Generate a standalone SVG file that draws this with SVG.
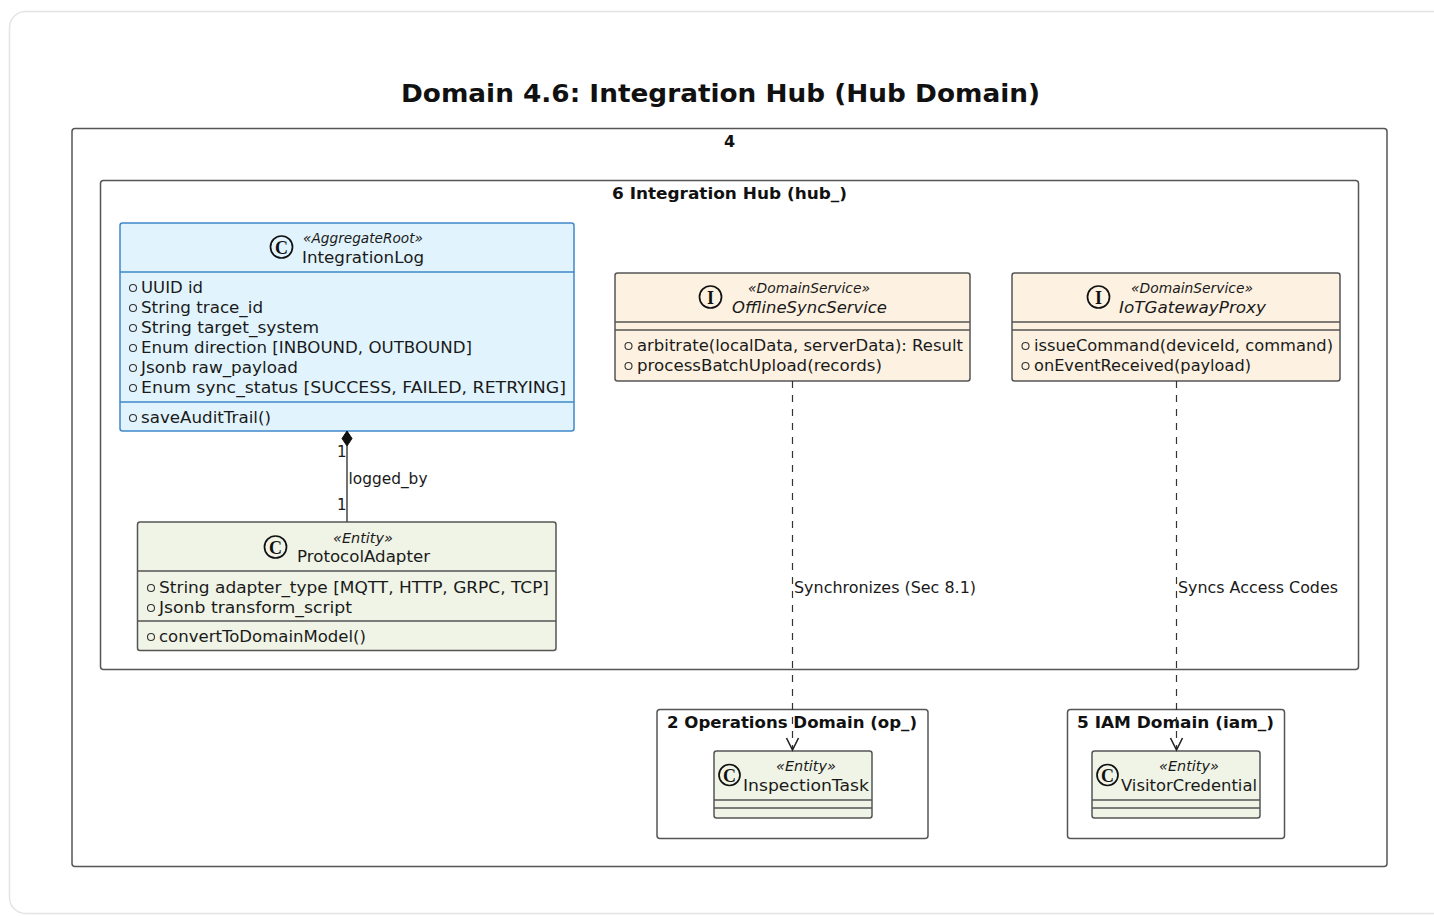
<svg xmlns="http://www.w3.org/2000/svg" width="1434" height="916" viewBox="0 0 1434 916">
<defs>
<style>
text{font-family:"DejaVu Sans","Verdana",sans-serif;fill:#1a1a1a;}
.title{font-size:25px;font-weight:bold;fill:#111;}
.pkg{fill:none;stroke:#555;stroke-width:1.5;}
.pkgl{font-size:16px;font-weight:bold;fill:#111;}
.root{fill:#e1f4fd;stroke:#3f88c9;stroke-width:1.5;}
.svc{fill:#fdf1e1;stroke:#555;stroke-width:1.5;}
.ent{fill:#eff4e6;stroke:#555;stroke-width:1.5;}
.sepb{stroke:#3f88c9;stroke-width:1.5;}
.sep{stroke:#555;stroke-width:1.5;}
.st{font-size:14px;font-style:italic;}
.nm{font-size:16.5px;}
.it{font-style:italic;}
.mb{font-size:16.5px;}
.vis{fill:none;stroke:#333;stroke-width:1.1;}
.ico{fill:none;stroke:#111;stroke-width:1.7;}
.icl{font-family:"Liberation Serif","DejaVu Serif",serif;font-size:18px;font-weight:bold;fill:#111;}
.lbl{font-size:15px;}
.dash{fill:none;stroke:#333;stroke-width:1.2;stroke-dasharray:7,7;}
.solid{fill:none;stroke:#444;stroke-width:1.5;}
.head{fill:none;stroke:#222;stroke-width:1.6;}
</style>
</defs>
<rect x="9.5" y="11.5" width="1440" height="902" rx="16" fill="#fff" stroke="#e4e4e8" stroke-width="1.5"/>
<text class="title" x="720.5" y="102" text-anchor="middle" textLength="639" lengthAdjust="spacingAndGlyphs">Domain 4.6: Integration Hub (Hub Domain)</text>

<g id="pkg-4">
<rect class="pkg" x="72" y="128.5" width="1315" height="738" rx="3"/>
<text class="pkgl" x="729.5" y="147" text-anchor="middle">4</text>
</g>
<g id="pkg-6">
<rect class="pkg" x="100.5" y="180.5" width="1258" height="489" rx="3"/>
<text class="pkgl" x="729.5" y="199" text-anchor="middle" textLength="235" lengthAdjust="spacingAndGlyphs">6 Integration Hub (hub_)</text>
</g>
<g id="pkg-2">
<rect class="pkg" x="657" y="709.5" width="271" height="129" rx="3"/>
<text class="pkgl" x="792" y="728" text-anchor="middle" textLength="250" lengthAdjust="spacingAndGlyphs">2 Operations Domain (op_)</text>
</g>
<g id="pkg-5">
<rect class="pkg" x="1067.5" y="709.5" width="217" height="129" rx="3"/>
<text class="pkgl" x="1175.5" y="728" text-anchor="middle" textLength="197" lengthAdjust="spacingAndGlyphs">5 IAM Domain (iam_)</text>
</g>

<g id="IntegrationLog">
<rect class="root" x="120" y="223" width="454" height="208" rx="2.5"/>
<line class="sepb" x1="120" y1="272" x2="574" y2="272"/>
<line class="sepb" x1="120" y1="402" x2="574" y2="402"/>
<circle class="ico" cx="281.5" cy="247" r="11"/>
<text class="icl" x="281.5" y="253.5" text-anchor="middle">C</text>
<text class="st" x="363" y="243" text-anchor="middle" textLength="120" lengthAdjust="spacingAndGlyphs">«AggregateRoot»</text>
<text class="nm" x="363" y="263" text-anchor="middle" textLength="122" lengthAdjust="spacingAndGlyphs">IntegrationLog</text>
<circle class="vis" cx="133" cy="288" r="3.5"/>
<text class="mb" x="141" y="293" textLength="62" lengthAdjust="spacingAndGlyphs">UUID id</text>
<circle class="vis" cx="133" cy="308" r="3.5"/>
<text class="mb" x="141" y="313" textLength="122" lengthAdjust="spacingAndGlyphs">String trace_id</text>
<circle class="vis" cx="133" cy="328" r="3.5"/>
<text class="mb" x="141" y="333" textLength="178" lengthAdjust="spacingAndGlyphs">String target_system</text>
<circle class="vis" cx="133" cy="348" r="3.5"/>
<text class="mb" x="141" y="353" textLength="331" lengthAdjust="spacingAndGlyphs">Enum direction [INBOUND, OUTBOUND]</text>
<circle class="vis" cx="133" cy="368" r="3.5"/>
<text class="mb" x="141" y="373" textLength="157" lengthAdjust="spacingAndGlyphs">Jsonb raw_payload</text>
<circle class="vis" cx="133" cy="388" r="3.5"/>
<text class="mb" x="141" y="393" textLength="425" lengthAdjust="spacingAndGlyphs">Enum sync_status [SUCCESS, FAILED, RETRYING]</text>
<circle class="vis" cx="133" cy="418" r="3.5"/>
<text class="mb" x="141" y="423" textLength="130" lengthAdjust="spacingAndGlyphs">saveAuditTrail()</text>
</g>

<g id="ProtocolAdapter">
<rect class="ent" x="137.5" y="522" width="418.5" height="128.5" rx="2.5"/>
<line class="sep" x1="137.5" y1="571" x2="556" y2="571"/>
<line class="sep" x1="137.5" y1="621" x2="556" y2="621"/>
<circle class="ico" cx="275.5" cy="547" r="11"/>
<text class="icl" x="275.5" y="553.5" text-anchor="middle">C</text>
<text class="st" x="363" y="543" text-anchor="middle" textLength="60" lengthAdjust="spacingAndGlyphs">«Entity»</text>
<text class="nm" x="363.5" y="562" text-anchor="middle" textLength="133" lengthAdjust="spacingAndGlyphs">ProtocolAdapter</text>
<circle class="vis" cx="151" cy="588" r="3.5"/>
<text class="mb" x="159" y="593" textLength="390" lengthAdjust="spacingAndGlyphs">String adapter_type [MQTT, HTTP, GRPC, TCP]</text>
<circle class="vis" cx="151" cy="608" r="3.5"/>
<text class="mb" x="159" y="613" textLength="193" lengthAdjust="spacingAndGlyphs">Jsonb transform_script</text>
<circle class="vis" cx="151" cy="637" r="3.5"/>
<text class="mb" x="159" y="642" textLength="207" lengthAdjust="spacingAndGlyphs">convertToDomainModel()</text>
</g>

<g id="OfflineSyncService">
<rect class="svc" x="615" y="273" width="355" height="108" rx="2.5"/>
<line class="sep" x1="615" y1="322" x2="970" y2="322"/>
<line class="sep" x1="615" y1="330" x2="970" y2="330"/>
<circle class="ico" cx="710.5" cy="297" r="11"/>
<text class="icl" x="710.5" y="303.5" text-anchor="middle">I</text>
<text class="st" x="809" y="293" text-anchor="middle" textLength="122" lengthAdjust="spacingAndGlyphs">«DomainService»</text>
<text class="nm it" x="809.5" y="313" text-anchor="middle" textLength="155" lengthAdjust="spacingAndGlyphs">OfflineSyncService</text>
<circle class="vis" cx="628.5" cy="346" r="3.5"/>
<text class="mb" x="637" y="351" textLength="326" lengthAdjust="spacingAndGlyphs">arbitrate(localData, serverData): Result</text>
<circle class="vis" cx="628.5" cy="366" r="3.5"/>
<text class="mb" x="637" y="371" textLength="245" lengthAdjust="spacingAndGlyphs">processBatchUpload(records)</text>
</g>

<g id="IoTGatewayProxy">
<rect class="svc" x="1012" y="273" width="328" height="108" rx="2.5"/>
<line class="sep" x1="1012" y1="322" x2="1340" y2="322"/>
<line class="sep" x1="1012" y1="330" x2="1340" y2="330"/>
<circle class="ico" cx="1098.5" cy="297" r="11"/>
<text class="icl" x="1098.5" y="303.5" text-anchor="middle">I</text>
<text class="st" x="1192" y="293" text-anchor="middle" textLength="122" lengthAdjust="spacingAndGlyphs">«DomainService»</text>
<text class="nm it" x="1192.5" y="313" text-anchor="middle" textLength="147" lengthAdjust="spacingAndGlyphs">IoTGatewayProxy</text>
<circle class="vis" cx="1025.5" cy="346" r="3.5"/>
<text class="mb" x="1034" y="351" textLength="299" lengthAdjust="spacingAndGlyphs">issueCommand(deviceId, command)</text>
<circle class="vis" cx="1025.5" cy="366" r="3.5"/>
<text class="mb" x="1034" y="371" textLength="217" lengthAdjust="spacingAndGlyphs">onEventReceived(payload)</text>
</g>

<g id="InspectionTask">
<rect class="ent" x="714" y="751" width="158" height="67" rx="2.5"/>
<line class="sep" x1="714" y1="800" x2="872" y2="800"/>
<line class="sep" x1="714" y1="808" x2="872" y2="808"/>
<circle class="ico" cx="729.5" cy="775" r="10.5"/>
<text class="icl" x="729.5" y="781.5" text-anchor="middle">C</text>
<text class="st" x="806" y="771" text-anchor="middle" textLength="60" lengthAdjust="spacingAndGlyphs">«Entity»</text>
<text class="nm" x="806" y="791" text-anchor="middle" textLength="126" lengthAdjust="spacingAndGlyphs">InspectionTask</text>
</g>

<g id="VisitorCredential">
<rect class="ent" x="1092" y="751" width="168" height="67" rx="2.5"/>
<line class="sep" x1="1092" y1="800" x2="1260" y2="800"/>
<line class="sep" x1="1092" y1="808" x2="1260" y2="808"/>
<circle class="ico" cx="1107.5" cy="775" r="10.5"/>
<text class="icl" x="1107.5" y="781.5" text-anchor="middle">C</text>
<text class="st" x="1189" y="771" text-anchor="middle" textLength="60" lengthAdjust="spacingAndGlyphs">«Entity»</text>
<text class="nm" x="1189" y="791" text-anchor="middle" textLength="136" lengthAdjust="spacingAndGlyphs">VisitorCredential</text>
</g>

<g id="connectors">
<line class="solid" x1="347" y1="446" x2="347" y2="522"/>
<polygon points="347,431 352,438.5 347,446 342,438.5" fill="#111" stroke="#111" stroke-width="1"/>
<text class="lbl" x="337" y="457">1</text>
<text class="lbl" x="337" y="510">1</text>
<text class="lbl" x="348.5" y="484" textLength="79" lengthAdjust="spacingAndGlyphs">logged_by</text>

<line class="dash" x1="792.5" y1="381" x2="792.5" y2="749"/>
<polyline class="head" points="786.5,738 792.5,750 798.5,738"/>
<text class="lbl" x="794" y="593" textLength="182" lengthAdjust="spacingAndGlyphs">Synchronizes (Sec 8.1)</text>

<line class="dash" x1="1176.5" y1="381" x2="1176.5" y2="749"/>
<polyline class="head" points="1170.5,738 1176.5,750 1182.5,738"/>
<text class="lbl" x="1178" y="593" textLength="160" lengthAdjust="spacingAndGlyphs">Syncs Access Codes</text>
</g>
</svg>
